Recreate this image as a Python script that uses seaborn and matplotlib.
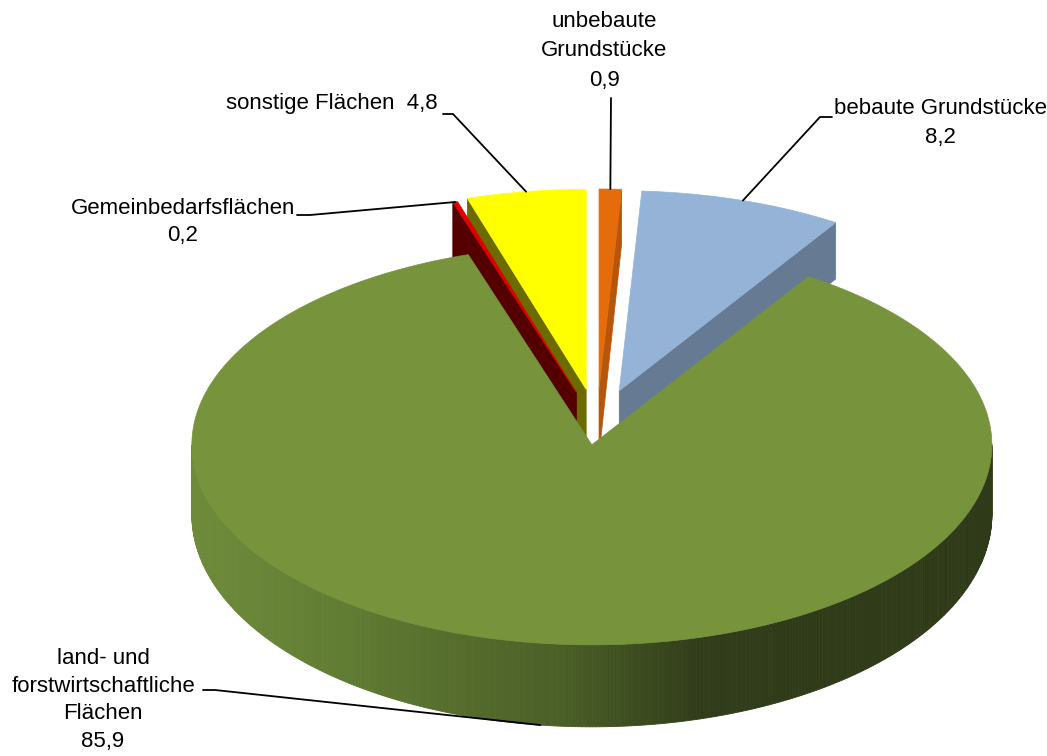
import numpy as np
import matplotlib
matplotlib.use("Agg")
import matplotlib.pyplot as plt
import matplotlib.colors as mcolors
import seaborn as sns

# Flächennutzung (Anteile in %)
labels = ["unbebaute\nGrundstücke", "bebaute Grundstücke",
          "land- und\nforstwirtschaftliche\nFlächen", "Gemeinbedarfsflächen",
          "sonstige Flächen"]
values = [0.9, 8.2, 85.9, 0.2, 4.8]
value_text = ["0,9", "8,2", "85,9", "0,2", "4,8"]

sns.set_style("white")
plt.rcParams['font.family'] = ['Liberation Sans Narrow', 'Liberation Sans', 'DejaVu Sans']
plt.rcParams['text.color'] = 'black'

# style of the 3d pie
explode = [0.18, 0.18, 0.10, 0.17, 0.18]
top_colors = ["#E46C0A", "#95B3D7", "#77933C", "#E00000", "#FFFF00"]
side_colors = ["#B5560A", "#667A94", "#4B5F27", "#550000", "#6B6B00"]
green_shade = [(195, "#6E8B3A"), (330, "#627E34"), (560, "#4B5F27"), (700, "#313D1A"), (1000, "#2F3A18")]

CX, CY = 597, 425      # pie centre (pixel)
A, B = 400, 200        # half axes of the top ellipse


def depth(y):
    # thicker at the front, thinner at the back (perspective)
    return 55 + (y - 200) * 27 / 445


def rim(theta, off):
    t = np.radians(theta)
    return CX + off[0] + A * np.cos(t), CY + off[1] - B * np.sin(t)


def shade(x):
    xs = [p[0] for p in green_shade]
    cols = np.array([mcolors.to_rgb(p[1]) for p in green_shade])
    return tuple(np.interp(x, xs, cols[:, k]) for k in range(3))


fig = plt.figure(figsize=(10.47, 7.56), dpi=100)
ax = fig.add_axes([0, 0, 1, 1])
ax.set_xlim(0, 1047)
ax.set_ylim(756, 0)
ax.axis("off")

bounds = 90 - np.cumsum([0] + values) * 3.6
geo = []
for i in range(len(values)):
    t_hi, t_lo = bounds[i], bounds[i + 1]
    mid = (t_hi + t_lo) / 2
    off = (explode[i] * A * np.cos(np.radians(mid)), -explode[i] * B * np.sin(np.radians(mid)))
    geo.append((t_lo, t_hi, mid, off))

for i in [0, 4, 3, 1, 2]:
    t_lo, t_hi, mid, off = geo[i]
    apex = (CX + off[0], CY + off[1])
    # radial side faces
    for t, vis in [(t_lo, np.cos(np.radians(t_lo)) > 1e-6), (t_hi, np.cos(np.radians(t_hi)) < -1e-6)]:
        if not vis:
            continue
        rx, ry = rim(t, off)
        xs = [apex[0], rx, rx, apex[0]]
        ys = [apex[1], ry, ry + depth(ry), apex[1] + depth(apex[1])]
        ax.fill(xs, ys, color=side_colors[i], lw=0.5, ec=side_colors[i])
    # outer wall (front part only)
    th = np.linspace(t_lo, t_hi, max(int((t_hi - t_lo) * 2), 2) + 1)
    for a0, a1 in zip(th[:-1], th[1:]):
        if np.sin(np.radians((a0 + a1) / 2)) >= 0:
            continue
        x0, y0 = rim(a0, off)
        x1, y1 = rim(a1, off)
        c = shade((x0 + x1) / 2) if i == 2 else side_colors[i]
        ax.fill([x0, x1, x1, x0], [y0, y1, y1 + depth(y1), y0 + depth(y0)], color=c, lw=0.6, ec=c)
    # top face
    px, py = rim(th, off)
    ax.fill(np.r_[apex[0], px], np.r_[apex[1], py], color=top_colors[i], lw=0.5, ec=top_colors[i])

# labels and leader lines
text_pos = [(604, 51, "center"), (940, 123, "center"), (103, 700, "center"),
            (183, 222, "center"), (438, 103, "right")]
leader_start = [[(611, 98)], [(832, 117), (820, 117)], [(203, 690), (215, 690)],
                [(297, 215), (310, 215)], [(443, 114), (453, 114)]]
spacing = [1.55, 1.55, 1.42, 1.42, 1.4]
sep = ["\n", "\n", "\n", "\n", "  "]
for i in range(len(values)):
    t_lo, t_hi, mid, off = geo[i]
    ex, ey = rim(mid, off)
    if np.sin(np.radians(mid)) < 0:
        ey += depth(ey)
    pts = leader_start[i] + [(ex, ey)]
    ax.plot([p[0] for p in pts], [p[1] for p in pts], color="black", lw=1.3)
    x, y, ha = text_pos[i]
    ax.text(x, y, labels[i] + sep[i] + value_text[i], ha=ha, va="center",
            multialignment="center", fontsize=16, linespacing=spacing[i])

fig.savefig("out.png", dpi=100)
